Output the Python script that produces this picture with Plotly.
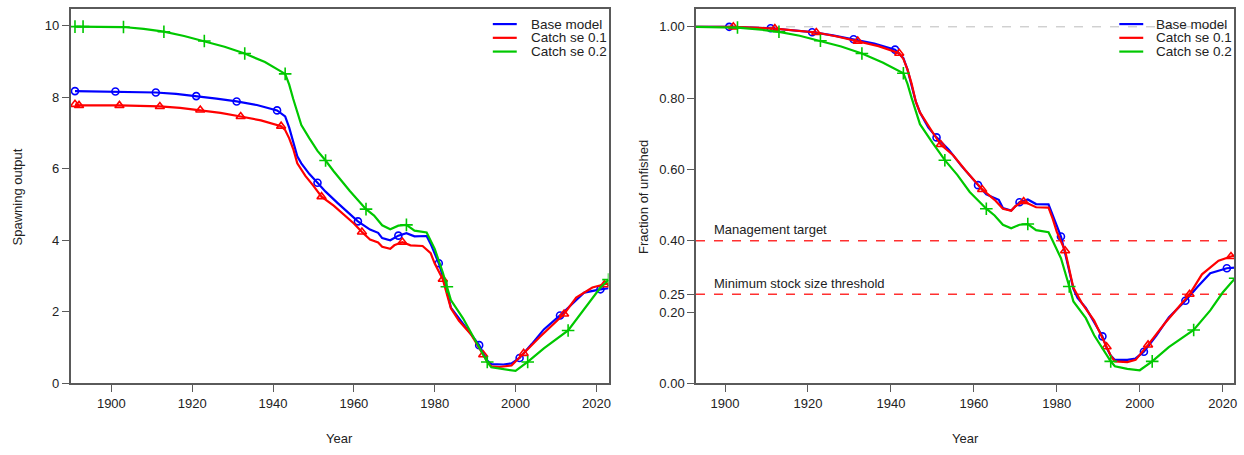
import plotly.graph_objects as go

# ---- Spawning output (left panel) ----
base_ssb_years = [1891, 1901, 1911, 1916, 1921, 1926, 1931, 1936, 1941, 1943, 1944, 1945, 1946, 1947,
                  1949, 1951, 1953, 1956, 1959, 1961, 1964, 1966, 1967, 1969, 1971, 1973, 1975, 1978,
                  1979, 1981, 1982, 1983, 1984, 1986, 1988, 1991, 1992, 1993, 1994, 1997, 1999, 2001,
                  2004, 2007, 2011, 2014, 2017, 2021, 2023]
base_ssb = [8.17, 8.16, 8.13, 8.09, 8.03, 7.96, 7.88, 7.78, 7.63, 7.46, 7.15, 6.75, 6.35, 6.15,
            5.85, 5.61, 5.36, 5.04, 4.74, 4.53, 4.30, 4.21, 4.06, 4.00, 4.13, 4.20, 4.11, 4.12,
            3.90, 3.36, 3.00, 2.60, 2.12, 1.82, 1.55, 1.07, 0.85, 0.64, 0.54, 0.53, 0.56, 0.71,
            1.10, 1.51, 1.90, 2.22, 2.54, 2.63, 2.66]

se01_ssb_years = [1891, 1892, 1902, 1912, 1917, 1922, 1927, 1932, 1937, 1942, 1943, 1944, 1945, 1946,
                  1948, 1950, 1952, 1955, 1957, 1960, 1962, 1964, 1966, 1967, 1969, 1970, 1972, 1974,
                  1977, 1979, 1980, 1982, 1983, 1984, 1986, 1989, 1992, 1993, 1994, 1996, 1999, 2002,
                  2006, 2012, 2015, 2019, 2022, 2023]
se01_ssb = [7.80, 7.77, 7.77, 7.74, 7.70, 7.64, 7.56, 7.46, 7.35, 7.19, 7.08, 6.85, 6.55, 6.15,
            5.80, 5.52, 5.22, 4.97, 4.76, 4.47, 4.23, 4.02, 3.94, 3.82, 3.76, 3.86, 3.95, 3.86,
            3.84, 3.64, 3.35, 2.91, 2.50, 2.10, 1.75, 1.37, 0.80, 0.60, 0.48, 0.46, 0.50, 0.84,
            1.30, 1.94, 2.40, 2.68, 2.76, 2.80]

se02_ssb_years = [1891, 1893, 1903, 1908, 1913, 1918, 1923, 1928, 1933, 1938, 1943, 1944, 1945, 1946,
                  1947, 1949, 1951, 1953, 1955, 1959, 1963, 1965, 1967, 1969, 1971, 1973, 1975, 1978,
                  1979, 1980, 1982, 1983, 1984, 1987, 1990, 1993, 1994, 1997, 2000, 2003, 2007, 2013,
                  2017, 2021, 2023]
se02_ssb = [9.97, 9.97, 9.96, 9.91, 9.83, 9.71, 9.57, 9.41, 9.22, 8.98, 8.65, 8.35, 7.95, 7.55,
            7.22, 6.85, 6.50, 6.23, 5.93, 5.38, 4.87, 4.69, 4.42, 4.31, 4.41, 4.43, 4.27, 4.22,
            4.00, 3.76, 3.10, 2.70, 2.33, 1.82, 1.23, 0.60, 0.45, 0.41, 0.35, 0.60, 0.98, 1.48,
            2.08, 2.68, 2.90]

# ---- Fraction of unfished (right panel) ----
base_frac_years = [1893, 1901, 1911, 1916, 1921, 1926, 1931, 1936, 1941, 1943, 1944, 1945, 1946, 1947,
                   1949, 1951, 1954, 1957, 1961, 1963, 1966, 1967, 1969, 1971, 1973, 1975, 1978, 1979,
                   1981, 1982, 1983, 1984, 1985, 1987, 1991, 1992, 1993, 1994, 1997, 1999, 2001, 2004,
                   2007, 2011, 2014, 2017, 2021, 2023]
base_frac = [1.000, 1.000, 0.996, 0.991, 0.985, 0.976, 0.965, 0.953, 0.936, 0.912, 0.880, 0.835, 0.790, 0.760,
             0.718, 0.690, 0.655, 0.610, 0.556, 0.530, 0.515, 0.492, 0.485, 0.508, 0.516, 0.503, 0.502, 0.470,
             0.412, 0.365, 0.310, 0.265, 0.240, 0.212, 0.132, 0.100, 0.078, 0.066, 0.066, 0.070, 0.089, 0.134,
             0.185, 0.232, 0.272, 0.309, 0.323, 0.325]

se01_frac_years = [1893, 1902, 1912, 1917, 1922, 1927, 1932, 1937, 1942, 1943, 1944, 1945, 1946, 1947,
                   1950, 1952, 1955, 1958, 1962, 1965, 1967, 1969, 1970, 1972, 1975, 1978, 1979, 1980,
                   1982, 1983, 1984, 1986, 1989, 1992, 1993, 1994, 1997, 1999, 2002, 2006, 2012, 2015,
                   2019, 2022, 2023]
se01_frac = [1.000, 1.000, 0.995, 0.990, 0.984, 0.973, 0.960, 0.946, 0.926, 0.910, 0.880, 0.840, 0.790, 0.760,
             0.705, 0.670, 0.640, 0.597, 0.544, 0.515, 0.490, 0.484, 0.497, 0.510, 0.494, 0.493, 0.462, 0.425,
             0.372, 0.322, 0.268, 0.226, 0.176, 0.103, 0.078, 0.062, 0.060, 0.066, 0.108, 0.168, 0.250, 0.306,
             0.344, 0.356, 0.359]

se02_frac_years = [1893, 1903, 1908, 1913, 1918, 1923, 1928, 1933, 1938, 1943, 1944, 1945, 1946, 1947,
                   1950, 1953, 1956, 1959, 1963, 1965, 1967, 1969, 1971, 1973, 1975, 1978, 1979, 1981,
                   1983, 1984, 1987, 1989, 1993, 1994, 1997, 2000, 2003, 2007, 2013, 2017, 2020, 2023]
se02_frac = [1.000, 0.998, 0.993, 0.986, 0.975, 0.961, 0.945, 0.925, 0.900, 0.870, 0.840, 0.800, 0.760, 0.727,
             0.675, 0.626, 0.585, 0.537, 0.490, 0.471, 0.445, 0.435, 0.445, 0.447, 0.430, 0.424, 0.400, 0.351,
             0.272, 0.230, 0.183, 0.135, 0.062, 0.048, 0.041, 0.037, 0.062, 0.102, 0.150, 0.205, 0.255, 0.295]

# point-marker years (staggered every 10 years, plus the unfished point)
base_ssb_marks = [1891] + list(range(1901, 2022, 10))
se01_ssb_marks = [1891] + list(range(1892, 2023, 10))
se02_ssb_marks = [1891] + list(range(1893, 2024, 10))
base_frac_marks = list(range(1901, 2022, 10))
se01_frac_marks = list(range(1902, 2023, 10))
se02_frac_marks = list(range(1903, 2024, 10))

model_names = ["Base model", "Catch se 0.1", "Catch se 0.2"]
colors = ["#0000FF", "#FF0000", "#00C800"]
symbols = ["circle-open", "triangle-up-open", "cross-thin"]
sizes = [7, 8, 9]

management_target = 0.40
min_stock_threshold = 0.25

FONT = "Liberation Sans, Arial, sans-serif"
AXIS_COL = "#5a5a5a"
TEXT_COL = "#222222"

fig = go.Figure()

panels = [
    ("x", "y", [(base_ssb_years, base_ssb, base_ssb_marks),
                (se01_ssb_years, se01_ssb, se01_ssb_marks),
                (se02_ssb_years, se02_ssb, se02_ssb_marks)]),
    ("x2", "y2", [(base_frac_years, base_frac, base_frac_marks),
                  (se01_frac_years, se01_frac, se01_frac_marks),
                  (se02_frac_years, se02_frac, se02_frac_marks)]),
]

for xa, ya, series in panels:
    for i, (yrs, vals, marks) in enumerate(series):
        fig.add_trace(go.Scatter(
            x=yrs, y=vals, mode="lines", xaxis=xa, yaxis=ya,
            line=dict(color=colors[i], width=2.2), name=model_names[i],
            showlegend=False, hoverinfo="skip"))
        lookup = dict(zip(yrs, vals))
        fig.add_trace(go.Scatter(
            x=marks, y=[lookup[m] for m in marks], mode="markers", xaxis=xa, yaxis=ya,
            marker=dict(symbol=symbols[i], size=sizes[i], color=colors[i],
                        line=dict(color=colors[i], width=1.6)),
            showlegend=False, hoverinfo="skip"))

W, H = 1244, 455
top_px, bot_px = 9.3, 390.3
ydom = [1 - bot_px / H, 1 - top_px / H]

axis_common = dict(
    showline=True, mirror=True, linecolor=AXIS_COL, linewidth=1.5,
    ticks="outside", ticklen=7, tickwidth=1.2, tickcolor=AXIS_COL,
    showgrid=False, zeroline=False,
    tickfont=dict(family=FONT, size=13, color=TEXT_COL),
)

fig.update_layout(
    width=W, height=H, autosize=False,
    margin=dict(l=0, r=0, t=0, b=0),
    paper_bgcolor="white", plot_bgcolor="white",
    font=dict(family=FONT, size=13, color=TEXT_COL),
    xaxis=dict(domain=[70.7 / W, 610 / W], range=[1889.9, 2023.0],
               tickvals=[1900, 1920, 1940, 1960, 1980, 2000, 2020], **axis_common),
    yaxis=dict(domain=ydom, range=[0, 10.46], tickvals=[0, 2, 4, 6, 8, 10],
               anchor="x", **axis_common),
    xaxis2=dict(domain=[697.7 / W, 1237.3 / W], range=[1893.0, 2022.8],
                tickvals=[1900, 1920, 1940, 1960, 1980, 2000, 2020], anchor="y2", **axis_common),
    yaxis2=dict(domain=ydom, range=[0, 1.0496], tickvals=[0, 0.2, 0.25, 0.4, 0.6, 0.8, 1.0],
                tickformat=".2f", anchor="x2", **axis_common),
)

# reference lines on the fraction panel
fig.add_shape(type="line", xref="x2 domain", yref="y2", x0=0, x1=1, y0=1.0, y1=1.0,
              line=dict(color="#BBBBBB", width=1, dash="dash"), layer="below")
for level in (management_target, min_stock_threshold):
    fig.add_shape(type="line", xref="x2 domain", yref="y2", x0=0, x1=1, y0=level, y1=level,
                  line=dict(color="#FF3030", width=1.4, dash="dash"), layer="below")

fig.add_annotation(text="Management target", xref="x2 domain", yref="y2",
                   x=0.030, y=management_target, xanchor="left", yanchor="middle", yshift=11,
                   showarrow=False, font=dict(family=FONT, size=13, color=TEXT_COL))
fig.add_annotation(text="Minimum stock size threshold", xref="x2 domain", yref="y2",
                   x=0.030, y=min_stock_threshold, xanchor="left", yanchor="middle", yshift=11,
                   showarrow=False, font=dict(family=FONT, size=13, color=TEXT_COL))

# axis titles
fig.add_annotation(text="Year", xref="paper", yref="paper", x=340 / W, y=1 - 446 / H,
                   xanchor="center", yanchor="middle", showarrow=False,
                   font=dict(family=FONT, size=13, color=TEXT_COL))
fig.add_annotation(text="Year", xref="paper", yref="paper", x=967.5 / W, y=1 - 446 / H,
                   xanchor="center", yanchor="middle", showarrow=False,
                   font=dict(family=FONT, size=13, color=TEXT_COL))
fig.add_annotation(text="Spawning output", xref="paper", yref="paper", x=18 / W, y=1 - 200 / H,
                   xanchor="center", yanchor="middle", textangle=-90, showarrow=False,
                   font=dict(family=FONT, size=13, color=TEXT_COL))
fig.add_annotation(text="Fraction of unfished", xref="paper", yref="paper", x=645 / W, y=1 - 200 / H,
                   xanchor="center", yanchor="middle", textangle=-90, showarrow=False,
                   font=dict(family=FONT, size=13, color=TEXT_COL))

# legends (line keys, no box)
legend_layouts = [(494, 518, 530), (1122, 1146, 1157)]
legend_rows = [24.5, 38.5, 52.5]
for x0, x1, xt in legend_layouts:
    for i, name in enumerate(model_names):
        yy = 1 - legend_rows[i] / H
        fig.add_shape(type="line", xref="paper", yref="paper", x0=x0 / W, x1=x1 / W,
                      y0=yy, y1=yy, line=dict(color=colors[i], width=2.2))
        fig.add_annotation(text=name, xref="paper", yref="paper", x=xt / W, y=yy,
                           xanchor="left", yanchor="middle", showarrow=False,
                           font=dict(family=FONT, size=13.5, color=TEXT_COL))

fig.write_html("out.html")
